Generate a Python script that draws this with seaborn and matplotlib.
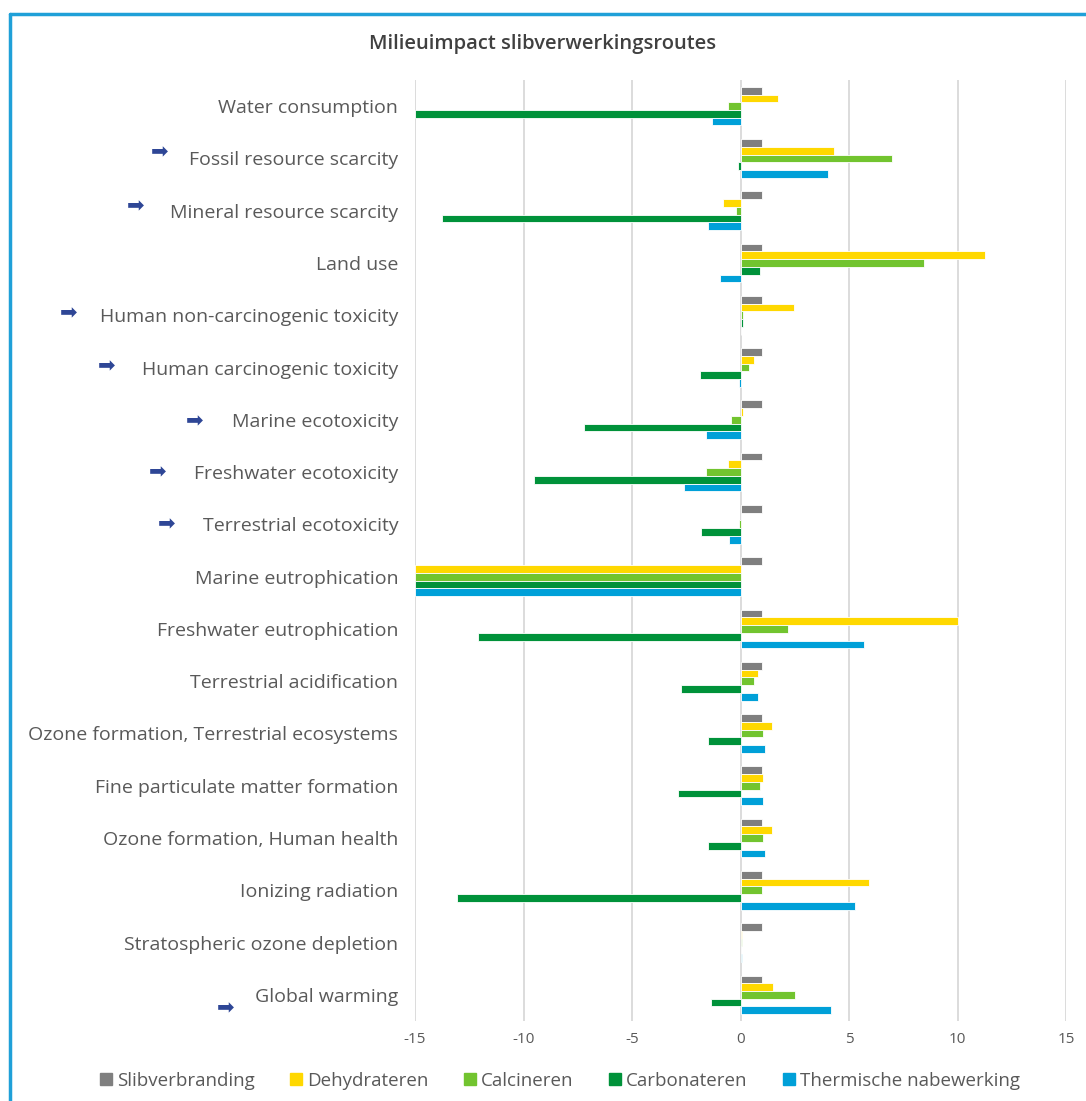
import pandas as pd
import matplotlib.pyplot as plt
import seaborn as sns
from matplotlib.lines import Line2D

# categories top to bottom
categories = [
    "Water consumption",
    "Fossil resource scarcity",
    "Mineral resource scarcity",
    "Land use",
    "Human non-carcinogenic toxicity",
    "Human carcinogenic toxicity",
    "Marine ecotoxicity",
    "Freshwater ecotoxicity",
    "Terrestrial ecotoxicity",
    "Marine eutrophication",
    "Freshwater eutrophication",
    "Terrestrial acidification",
    "Ozone formation, Terrestrial ecosystems",
    "Fine particulate matter formation",
    "Ozone formation, Human health",
    "Ionizing radiation",
    "Stratospheric ozone depletion",
    "Global warming",
]

slibverbranding = [1] * 18
dehydrateren = [1.75, 4.33, -0.8, 11.26, 2.48, 0.62, 0.1, -0.58, 0.0, -15,
                10.02, 0.82, 1.47, 1.05, 1.47, 5.91, 0.08, 1.5]
calcineren = [-0.58, 6.97, -0.23, 8.46, 0.1, 0.41, -0.46, -1.6, -0.09, -15,
              2.18, 0.62, 1.05, 0.9, 1.05, 1.0, 0.08, 2.5]
carbonateren = [-15, -0.1, -13.74, 0.9, 0.1, -1.88, -7.23, -9.52, -1.81, -15,
                -12.11, -2.75, -1.52, -2.87, -1.52, -13.05, 0.0, -1.36]
thermisch = [-1.31, 4.04, -1.52, -0.96, 0.0, -0.09, -1.6, -2.59, -0.51, -15,
             5.69, 0.82, 1.12, 1.05, 1.12, 5.27, 0.08, 4.15]

series = ["Slibverbranding", "Dehydrateren", "Calcineren", "Carbonateren",
          "Thermische nabewerking"]
colors = ["#7f7f7f", "#ffd800", "#72c42f", "#00923a", "#00a0d8"]

# labels that get an arrow in front of them
arrow_labels = ["Fossil resource scarcity", "Mineral resource scarcity",
                "Human non-carcinogenic toxicity", "Human carcinogenic toxicity",
                "Marine ecotoxicity", "Freshwater ecotoxicity",
                "Terrestrial ecotoxicity", "Global warming"]

rows = []
for name, vals in zip(series, [slibverbranding, dehydrateren, calcineren,
                               carbonateren, thermisch]):
    for cat, v in zip(categories, vals):
        rows.append({"categorie": cat, "route": name, "waarde": v})
df = pd.DataFrame(rows)

sns.set_style("white")
plt.rcParams["font.family"] = ["Open Sans", "DejaVu Sans"]
plt.rcParams["axes.unicode_minus"] = False
text_color = "#595959"

W, H = 1086, 1101
fig = plt.figure(figsize=(W / 100, H / 100), dpi=100)
ax = fig.add_axes([415 / W, 1 - 1021 / H, 651 / W, 941 / H])

sns.barplot(data=df, x="waarde", y="categorie", hue="route",
            hue_order=series, order=categories, palette=colors, orient="h",
            width=0.74, saturation=1, edgecolor="white", linewidth=0.6,
            legend=False, ax=ax)

ax.set_xlim(-15, 15)
ax.set_ylim(len(categories) - 0.5, -0.5)
ax.set_xticks([-15, -10, -5, 0, 5, 10, 15])
ax.grid(axis="x", color="#d9d9d9", linewidth=1.3)
ax.set_axisbelow(True)
for s in ax.spines.values():
    s.set_visible(False)
ax.set_xlabel("")
ax.set_ylabel("")
ax.tick_params(axis="y", length=0, pad=12, labelsize=14, labelcolor=text_color)
ax.tick_params(axis="x", length=0, pad=8, labelsize=11, labelcolor=text_color)

# arrows in front of some labels (pixel positions of arrow centres)
arrow_pos = {
    "Fossil resource scarcity": (160, 152),
    "Mineral resource scarcity": (136, 206),
    "Human non-carcinogenic toxicity": (69, 313),
    "Human carcinogenic toxicity": (107, 366),
    "Marine ecotoxicity": (195, 421),
    "Freshwater ecotoxicity": (158, 472),
    "Terrestrial ecotoxicity": (167, 524),
    "Global warming": (226, 1008),
}
for lab in arrow_labels:
    px, py = arrow_pos[lab]
    fig.text(px / W, 1 - py / H, "\u27a1", color="#2e4696", fontsize=15,
             ha="center", va="center", family="DejaVu Sans")

fig.text(0.5, 1 - 44 / H, "Milieuimpact slibverwerkingsroutes", ha="center",
         va="center", fontsize=14.5, fontweight="semibold", color="#404040")

handles = [Line2D([], [], marker="s", linestyle="", markersize=9, color=c)
           for c in colors]
fig.legend(handles, series, loc="center", bbox_to_anchor=(0.515, 1 - 1081 / H),
           ncol=5, frameon=False, fontsize=13.5, labelcolor=text_color,
           handletextpad=0.2, columnspacing=1.8, handlelength=0.8)

# blue frame lines (top and left)
fig.add_artist(Line2D([10 / W, 1], [1 - 14 / H, 1 - 14 / H], color="#1fa0d8",
                      linewidth=2.5))
fig.add_artist(Line2D([10 / W, 10 / W], [0, 1 - 14 / H], color="#1fa0d8",
                      linewidth=2.5))

fig.savefig("out.png", dpi=100)
